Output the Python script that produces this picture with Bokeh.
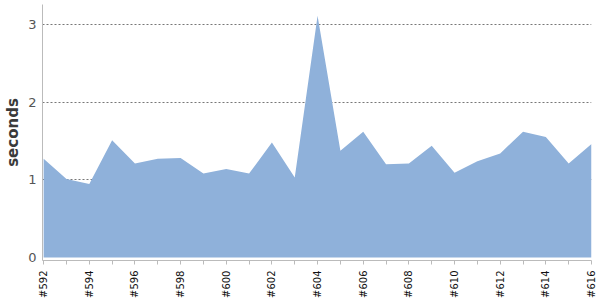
import math
from bokeh.plotting import figure
from bokeh.models import FixedTicker, Range1d
from bokeh.embed import file_html
from bokeh.resources import INLINE

builds = list(range(592, 617))
seconds = [1.27, 1.01, 0.945, 1.51, 1.21, 1.27, 1.28, 1.08, 1.14, 1.08, 1.48, 1.03,
           3.11, 1.375, 1.62, 1.20, 1.21, 1.44, 1.09, 1.24, 1.34, 1.62, 1.55, 1.21, 1.46]
labels = {b: "#%d" % b for b in builds}
y_ticks = [0, 1, 2, 3]

p = figure(width=600, height=300, output_backend="svg", toolbar_location=None,
           x_range=Range1d(591.95, 616), y_range=Range1d(-0.038, 3.256),
           min_border_left=42, min_border_right=9, min_border_top=4, min_border_bottom=39)
p.outline_line_color = None
p.background_fill_color = "white"

p.varea(x=builds, y1=[0] * len(builds), y2=seconds, fill_color="#8FB1DA", fill_alpha=1.0)

# y axis
p.yaxis.ticker = FixedTicker(ticks=y_ticks)
p.yaxis.axis_label = "seconds"
p.yaxis.axis_label_text_font = "DejaVu Sans"
p.yaxis.axis_label_text_font_size = "15px"
p.yaxis.axis_label_text_font_style = "bold"
p.yaxis.axis_label_text_color = "#3a3a3a"
p.yaxis.axis_label_standoff = 3
p.yaxis.major_label_text_font = "DejaVu Sans"
p.yaxis.major_label_text_font_size = "13px"
p.yaxis.major_label_text_color = "#555555"
p.yaxis.major_label_standoff = 6
p.yaxis.axis_line_color = "#BBBBBB"
p.yaxis.major_tick_line_color = None
p.yaxis.major_tick_out = 0
p.yaxis.major_tick_in = 0
p.yaxis.minor_tick_line_color = None

# x axis
p.xaxis.ticker = FixedTicker(ticks=[b for b in builds if b % 2 == 0],
                             minor_ticks=[b for b in builds if b % 2 == 1])
p.xaxis.major_label_overrides = labels
p.xaxis.major_label_orientation = math.pi / 2
p.xaxis.major_label_text_font = "DejaVu Sans"
p.xaxis.major_label_text_font_size = "10px"
p.xaxis.major_label_text_color = "#111111"
p.xaxis.major_label_standoff = 6
p.xaxis.axis_line_color = "#BBBBBB"
p.xaxis.major_tick_line_color = "#BBBBBB"
p.xaxis.minor_tick_line_color = "#BBBBBB"
p.xaxis.major_tick_out = 4
p.xaxis.major_tick_in = 0
p.xaxis.minor_tick_out = 4
p.xaxis.minor_tick_in = 0

# grid
p.xgrid.grid_line_color = None
p.ygrid.ticker = FixedTicker(ticks=[1, 2, 3])
p.ygrid.grid_line_color = "#777777"
p.ygrid.grid_line_dash = "2 2"
p.ygrid.grid_line_width = 1

open("out.html", "w").write(file_html(p, INLINE))
